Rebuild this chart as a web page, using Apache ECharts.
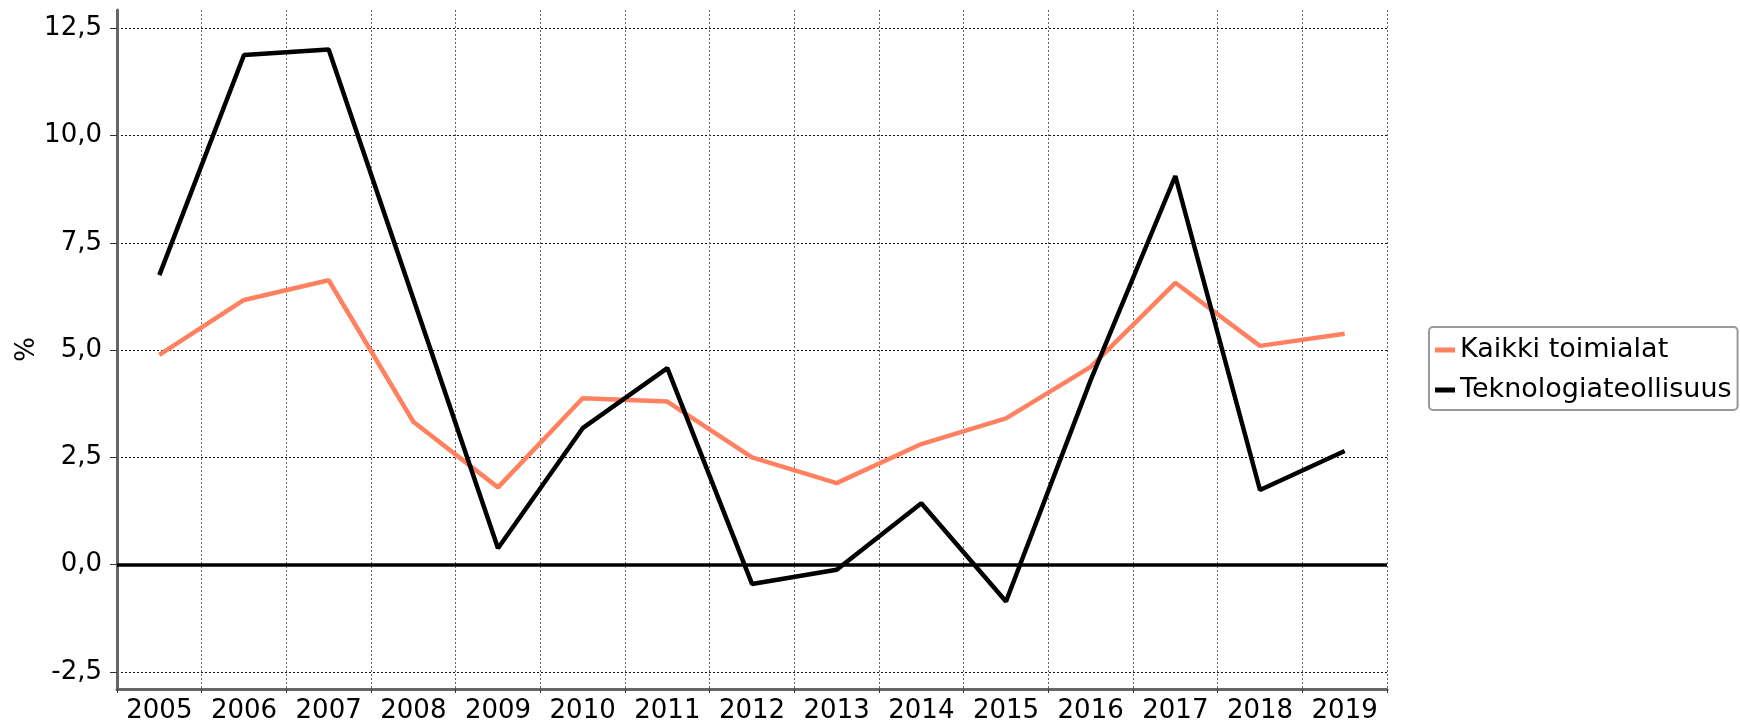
<!DOCTYPE html>
<html>
<head>
<meta charset="utf-8">
<script src="https://cdn.jsdelivr.net/npm/echarts@6/dist/echarts.min.js"></script>
<style>
html,body{margin:0;padding:0;background:#fff;}
#chart{width:1740px;height:724px;}
</style>
</head>
<body>
<div id="chart"></div>
<script>
var years = ['2005','2006','2007','2008','2009','2010','2011','2012','2013','2014','2015','2016','2017','2018','2019'];
var kaikkiToimialat = [4.89, 6.17, 6.63, 3.33, 1.80, 3.88, 3.80, 2.50, 1.90, 2.81, 3.41, 4.61, 6.57, 5.10, 5.38];
var teknologiateollisuus = [6.75, 11.88, 12.01, 6.2, 0.38, 3.18, 4.58, -0.45, -0.12, 1.43, -0.86, 4.3, 9.06, 1.74, 2.65];
var yTicks = [-2.5, 0, 2.5, 5, 7.5, 10, 12.5];
var yMin = -2.9, yMax = 12.93;
var seriesNames = ['Kaikki toimialat', 'Teknologiateollisuus'];

var FONT = 'DejaVu Sans';
var chart = echarts.init(document.getElementById('chart'), null, {renderer: 'canvas'});
chart.setOption({
  animation: false,
  backgroundColor: '#ffffff',
  textStyle: {fontFamily: FONT},
  grid: {left: 117, right: 353, top: 10, bottom: 35, containLabel: false, outerBoundsMode: 'none'},
  legend: {
    left: 1429, top: 327,
    orient: 'vertical',
    data: seriesNames,
    icon: 'rect',
    itemWidth: 20, itemHeight: 5,
    itemGap: 10,
    padding: [8, 6, 5, 6],
    borderColor: '#999999', borderWidth: 2, borderRadius: 4,
    textStyle: {fontFamily: FONT, fontSize: 27, color: '#000', lineHeight: 30}
  },
  xAxis: {
    type: 'category',
    data: years,
    boundaryGap: true,
    axisLine: {show: true, onZero: false, lineStyle: {color: '#666666', width: 3}},
    axisTick: {show: true, length: 4, interval: 0, lineStyle: {color: '#333', width: 1}},
    axisLabel: {interval: 0, margin: 9, fontFamily: FONT, fontSize: 26, color: '#000'},
    splitLine: {show: true, interval: 0, lineStyle: {color: '#666', width: 1, type: [2, 2]}}
  },
  yAxis: {
    type: 'value',
    min: yMin, max: yMax,
    name: '%',
    nameLocation: 'middle',
    nameRotate: 90,
    nameGap: 77,
    nameMoveOverlap: false,
    nameTextStyle: {fontFamily: FONT, fontSize: 26, color: '#000'},
    axisLine: {show: true, lineStyle: {color: '#666666', width: 3}},
    axisTick: {show: true, length: 7, customValues: yTicks, lineStyle: {color: '#333', width: 1}},
    axisLabel: {
      customValues: yTicks, margin: 15, fontFamily: FONT, fontSize: 26, color: '#000',
      formatter: function (v) { return v.toFixed(1).replace('.', ','); }
    },
    splitLine: {show: true, lineStyle: {color: '#111', width: 1, type: [2, 2]}}
  },
  series: [
    {
      name: seriesNames[0], type: 'line', data: kaikkiToimialat,
      symbol: 'none', color: '#ff8160',
      lineStyle: {color: '#ff8160', width: 4.5}, z: 3,
      markLine: {
        silent: true, symbol: ['none', 'none'], label: {show: false}, z: 2,
        lineStyle: {color: '#000', width: 3.5, type: 'solid'},
        data: [{yAxis: 0}]
      }
    },
    {
      name: seriesNames[1], type: 'line', data: teknologiateollisuus,
      symbol: 'none', color: '#000000',
      lineStyle: {color: '#000000', width: 4.5}, z: 4
    }
  ]
});
</script>
</body>
</html>
